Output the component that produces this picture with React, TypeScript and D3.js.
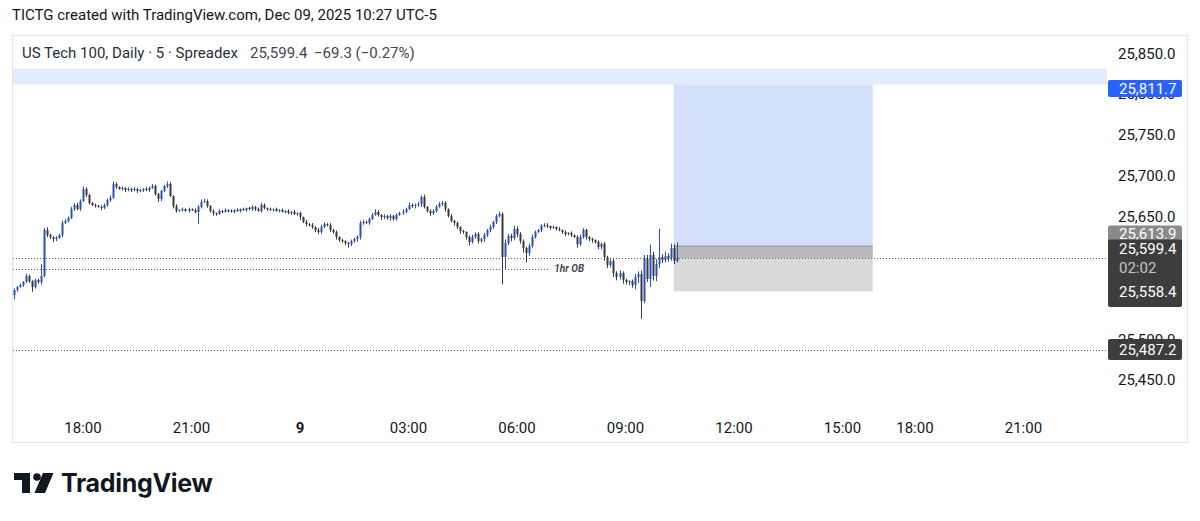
import React from 'react';
import * as d3 from 'd3';

// ---------- DATA ----------
const firstOpen = 25554;
const closes = [
  25560, 25564, 25566, 25570, 25577, 25571, 25564, 25572, 25570, 25577,
  25634, 25627, 25625, 25622, 25624, 25627, 25642, 25645, 25648, 25659,
  25664, 25659, 25669, 25684, 25676, 25667, 25664, 25663, 25662, 25660,
  25664, 25670, 25673, 25690, 25686, 25684, 25685, 25682, 25684, 25682,
  25684, 25681, 25682, 25684, 25682, 25685, 25687, 25678, 25671, 25681,
  25687, 25690, 25675, 25663, 25657, 25658, 25659, 25657, 25659, 25658,
  25656, 25662, 25668, 25669, 25663, 25657, 25654, 25653, 25657, 25656,
  25658, 25657, 25656, 25658, 25657, 25659, 25658, 25660, 25659, 25662,
  25659, 25657, 25664, 25660, 25659, 25658, 25659, 25657, 25658, 25656,
  25657, 25654, 25656, 25653, 25654, 25649, 25644, 25641, 25640, 25637,
  25634, 25631, 25637, 25641, 25640, 25634, 25631, 25625, 25621, 25620,
  25618, 25616, 25620, 25622, 25625, 25642, 25643, 25642, 25647, 25652,
  25656, 25652, 25649, 25651, 25648, 25651, 25647, 25652, 25654, 25656,
  25659, 25664, 25663, 25664, 25665, 25674, 25662, 25657, 25654, 25657,
  25662, 25665, 25667, 25659, 25651, 25645, 25642, 25637, 25632, 25631,
  25625, 25619, 25625, 25629, 25620, 25622, 25627, 25633, 25637, 25643,
  25651, 25653, 25600, 25618, 25626, 25624, 25635, 25629, 25620, 25611,
  25605, 25614, 25625, 25631, 25633, 25638, 25640, 25638, 25636, 25637,
  25635, 25633, 25631, 25629, 25630, 25627, 25625, 25616, 25625, 25633,
  25625, 25622, 25621, 25619, 25613, 25616, 25600, 25591, 25596, 25581,
  25576, 25581, 25572, 25570, 25571, 25566, 25576, 25580, 25547, 25598,
  25574, 25603, 25577, 25592, 25600, 25597, 25602, 25599, 25611, 25596,
  25599.4,
];
// wick extents beyond the body (points)
const wickUp = [
  2, 1, 2, 1, 3, 2, 1, 2, 2, 15,
  2, 3, 2, 1, 2, 2, 3, 2, 2, 3,
  2, 3, 2, 3, 2, 2, 1, 2, 1, 2,
  2, 2, 3, 3, 2, 1, 2, 1, 2, 1,
  2, 1, 2, 1, 2, 2, 3, 2, 1, 2,
  2, 3, 2, 1, 2, 1, 2, 1, 2, 1,
  2, 2, 3, 3, 2, 1, 2, 1, 2, 1,
  2, 1, 2, 1, 2, 1, 2, 1, 2, 2,
  1, 2, 3, 2, 1, 2, 1, 2, 1, 2,
  1, 2, 1, 2, 1, 2, 1, 2, 1, 2,
  1, 2, 3, 2, 1, 2, 1, 2, 1, 2,
  1, 1, 2, 2, 2, 3, 3, 2, 2, 2,
  3, 2, 1, 2, 1, 2, 1, 2, 2, 3,
  2, 3, 2, 2, 3, 2, 3, 1, 2, 2,
  2, 3, 2, 2, 1, 2, 1, 2, 1, 2,
  1, 2, 3, 2, 2, 2, 3, 2, 3, 2,
  2, 3, 2, 4, 3, 3, 4, 3, 2, 2,
  2, 3, 3, 2, 2, 3, 2, 2, 1, 2,
  1, 2, 1, 2, 1, 2, 1, 2, 3, 3,
  2, 1, 2, 1, 2, 2, 3, 2, 3, 2,
  2, 3, 2, 2, 1, 2, 4, 3, 4, 5,
  5, 13, 4, 6, 35, 4, 5, 3, 6, 5,
  19,
];
const wickDn = [
  5, 2, 1, 2, 1, 2, 6, 2, 2, 3,
  1, 2, 2, 3, 2, 1, 2, 1, 2, 1,
  2, 1, 2, 1, 2, 2, 1, 2, 1, 2,
  1, 2, 2, 1, 2, 1, 2, 2, 1, 2,
  1, 2, 1, 2, 1, 2, 1, 2, 3, 2,
  1, 2, 1, 3, 2, 1, 2, 1, 2, 1,
  2, 15, 2, 1, 2, 2, 3, 2, 1, 2,
  1, 2, 1, 2, 1, 2, 1, 2, 1, 2,
  2, 1, 2, 1, 2, 1, 2, 1, 2, 1,
  2, 1, 2, 1, 2, 3, 2, 3, 2, 2,
  3, 2, 2, 1, 2, 3, 2, 3, 2, 2,
  3, 4, 2, 2, 3, 3, 2, 1, 2, 1,
  1, 2, 3, 2, 2, 3, 2, 2, 1, 2,
  2, 1, 2, 3, 2, 3, 2, 2, 3, 2,
  2, 1, 2, 3, 2, 2, 3, 2, 3, 2,
  3, 4, 2, 2, 3, 2, 3, 2, 2, 2,
  2, 2, 33, 14, 3, 4, 3, 4, 3, 5,
  11, 3, 2, 2, 1, 2, 1, 2, 2, 1,
  2, 1, 2, 3, 2, 2, 1, 4, 2, 2,
  3, 2, 3, 2, 3, 3, 4, 4, 3, 5,
  4, 3, 4, 3, 4, 3, 5, 7, 22, 3,
  4, 10, 5, 6, 5, 4, 3, 4, 3, 4,
  2,
];

// price-scale ticks; 25,600 and 25,550 sit fully under the current-price label in the reference
const priceTicks = [25850, 25800, 25750, 25700, 25650, 25500, 25450];
const timeTickLabels = ['18:00', '21:00', '9', '03:00', '06:00', '09:00', '12:00', '15:00', '18:00', '21:00'];
const timeTickSlots = [23, 59, 95, 131, 167, 203, 239, 275, 299, 335];
const boldTicks = ['9'];

const lastPrice = 25599.4;
const entryPrice = 25613.9;
const targetPrice = 25811.7;
const stopPrice = 25558.4;
const zoneTopPrice = 25831;
const lowLinePrice = 25487.2;
const obPrice = 25586;
const positionStartSlot = 219;
const positionEndSlot = 285;
const obEndSlot = 178;
const countdown = '02:02';

const headerText = 'TICTG created with TradingView.com, Dec 09, 2025 10:27 UTC-5';
const legendTitle = 'US Tech 100, Daily · 5 · Spreadex';
const legendPrice = '25,599.4';
const legendChange = '−69.3 (−0.27%)';

// ---------- CHART ----------
const FONT = 'Roboto, "Noto Sans", sans-serif';
const UP = '#2a50bd';
const DOWN = '#3a3a3a';

const fmt = (v: number) => d3.format(',.1f')(v);

export default function App() {
  const W = 1200, H = 521;
  const plotLeft = 12, plotRight = 1107;
  const x = d3.scaleLinear().domain([0, 335]).range([13.7, 13.7 + 335 * 3.014]);
  const y = d3.scaleLinear().domain([25450, 25850]).range([380, 53.2]);

  const candles = closes.map((c, i) => {
    const o = i === 0 ? firstOpen : closes[i - 1];
    const hi = Math.max(o, c) + wickUp[i];
    const lo = Math.min(o, c) - wickDn[i];
    return { i, o, c, hi, lo, up: c >= o };
  });

  const labelX = 1108, labelW = 74, textX = 1119;

  return (
    <svg width={W} height={H} style={{ position: 'absolute', left: 0, top: 0, background: '#fff' }}
      fontFamily={FONT}>
      <rect x={0} y={0} width={W} height={H} fill="#ffffff" />
      {/* header */}
      <text x={12} y={19.5} fontSize={15} fill="#131722">{headerText}</text>

      {/* panel */}
      <rect x={12.5} y={35.5} width={1175} height={407} fill="#fff" stroke="#e0e3eb" strokeWidth={1} />

      {/* light blue zone */}
      <rect x={plotLeft + 1} y={y(zoneTopPrice)} width={plotRight - plotLeft - 1}
        height={y(targetPrice) - y(zoneTopPrice)} fill="#e3ebfd" />

      {/* long position tool */}
      <rect x={x(positionStartSlot)} y={y(targetPrice)} width={x(positionEndSlot) - x(positionStartSlot)}
        height={y(entryPrice) - y(targetPrice)} fill="#d2e0fc" />
      <rect x={x(positionStartSlot)} y={y(entryPrice)} width={x(positionEndSlot) - x(positionStartSlot)}
        height={y(stopPrice) - y(entryPrice)} fill="#dadada" />
      <rect x={x(positionStartSlot)} y={y(entryPrice)} width={x(positionEndSlot) - x(positionStartSlot)}
        height={y(lastPrice) - y(entryPrice)} fill="#b9b9b9" />
      <line x1={x(positionStartSlot)} x2={x(positionEndSlot)} y1={y(entryPrice)} y2={y(entryPrice)}
        stroke="#8f8f8f" strokeWidth={1} />

      {/* dotted lines */}
      <line x1={plotLeft + 1} x2={plotRight} y1={Math.round(y(lastPrice)) + 0.5} y2={Math.round(y(lastPrice)) + 0.5}
        stroke="#5d606b" strokeDasharray="1 2" />
      <line x1={plotLeft + 1} x2={x(obEndSlot)} y1={Math.round(y(obPrice)) + 0.5} y2={Math.round(y(obPrice)) + 0.5}
        stroke="#5d606b" strokeDasharray="1 2" />
      <text x={x(obEndSlot) + 4} y={y(obPrice) + 3.5} fontSize={10} fontStyle="italic" fontWeight={700}
        fill="#434651">1hr OB</text>
      <line x1={plotLeft + 1} x2={plotRight} y1={Math.round(y(lowLinePrice)) + 0.5} y2={Math.round(y(lowLinePrice)) + 0.5}
        stroke="#5d606b" strokeDasharray="1 2" />

      {/* candles */}
      {candles.map(d => {
        const cx = Math.round(x(d.i));
        const top = Math.round(y(Math.max(d.o, d.c)));
        const bot = Math.round(y(Math.min(d.o, d.c)));
        const col = d.up ? UP : DOWN;
        return (
          <g key={d.i}>
            <rect x={cx} y={y(d.hi)} width={1} height={y(d.lo) - y(d.hi)} fill={col} />
            <rect x={cx - 0.5} y={top} width={2} height={Math.max(1, bot - top)} fill={col} />
          </g>
        );
      })}

      {/* legend */}
      <text x={22} y={58} fontSize={15} fill="#2a2e39">{legendTitle}</text>
      <text x={250} y={58} fontSize={15} fill="#434651">{legendPrice}</text>
      <text x={314} y={58} fontSize={15} fill="#434651">{legendChange}</text>

      {/* price axis */}
      {priceTicks.map(p => (
        <text key={p} x={textX - 1} y={y(p)} dy="0.36em" fontSize={15} fill="#131722">{fmt(p)}</text>
      ))}

      {/* price labels */}
      <rect x={labelX} y={80} width={labelW} height={17} rx={2} fill="#2962ff" />
      <text x={textX} y={88.5} dy="0.36em" fontSize={15} fill="#fff">{fmt(targetPrice)}</text>

      <rect x={labelX} y={225.5} width={labelW} height={17} rx={2} fill="#8a8a8a" />
      <text x={textX} y={233.5} dy="0.36em" fontSize={15} fill="#fff">{fmt(entryPrice)}</text>

      <rect x={labelX} y={239.5} width={labelW} height={67.5} rx={2} fill="#3d3d3d" />
      <text x={textX} y={y(lastPrice) - 9.5} dy="0.36em" fontSize={15} fill="#fff">{fmt(lastPrice)}</text>
      <text x={textX} y={y(lastPrice) + 10} dy="0.36em" fontSize={15} fill="#c4c4c4">{countdown}</text>
      <text x={textX} y={y(stopPrice)} dy="0.36em" fontSize={15} fill="#fff">{fmt(stopPrice)}</text>

      <rect x={labelX} y={y(lowLinePrice) - 10.5} width={labelW} height={21} rx={2} fill="#3d3d3d" />
      <text x={textX} y={y(lowLinePrice)} dy="0.36em" fontSize={15} fill="#fff">{fmt(lowLinePrice)}</text>

      {/* time axis */}
      {timeTickLabels.map((t, k) => (
        <text key={k} x={x(timeTickSlots[k])} y={428} dy="0.36em" textAnchor="middle" fontSize={15}
          fontWeight={boldTicks.includes(t) ? 700 : 400} fill="#131722">{t}</text>
      ))}

      {/* logo */}
      <g fill="#131722">
        <path d="M14 473 H30 V493 H22 V480 H14 Z" />
        <circle cx={37} cy={477} r={3.8} />
        <path d="M43 473 H53.5 L45 493 H34.5 Z" />
      </g>
      <text x={61} y={492} fontSize={25} fontWeight={700} fill="#131722"
        fontFamily='Inter, Roboto, sans-serif' letterSpacing={-0.3}>TradingView</text>
    </svg>
  );
}
